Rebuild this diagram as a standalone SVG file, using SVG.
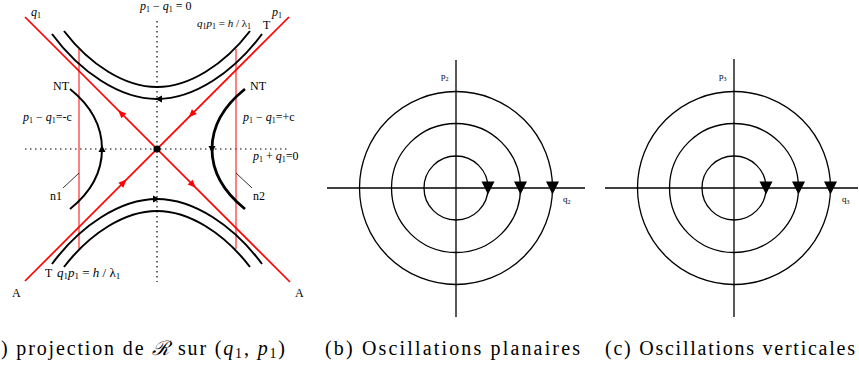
<svg xmlns="http://www.w3.org/2000/svg" width="859" height="367" viewBox="0 0 859 367">
<style>
.lbl{font-family:"Liberation Serif","Times New Roman",serif;font-size:12px;fill:#000}
.it{font-style:italic}
.sub{font-size:8px;font-style:normal}
.small{font-family:"Liberation Serif","Times New Roman",serif;font-size:9px;fill:#000}
.cap{font-family:"Liberation Serif","Times New Roman",serif;font-size:20px;fill:#000}
.dot{stroke:#000;stroke-width:1.2;stroke-dasharray:1.5 3.5;fill:none}
.sep{stroke:#f00;stroke-width:1.7;fill:none}
.thinred{stroke:#f00;stroke-width:1;fill:none}
.traj{stroke:#000;stroke-width:2;fill:none}
.thin{stroke:#000;stroke-width:0.8;fill:none}
.ax{stroke:#000;stroke-width:1.3;fill:none}
</style>
<defs>
<path id="rah" d="M0,0 L-8,-3.5 L-8,3.5 Z" fill="#f00"/>
<path id="bah" d="M0,0 L-7,-3.5 L-7,3.5 Z" fill="#000"/>
<path id="tri" d="M-6.5,-6.5 L6.5,-6.5 L0,6.5 Z" fill="#000"/>
</defs>

<g id="panel-a">
  <g id="axes-a">
    <line class="dot" x1="157" y1="21" x2="157" y2="282"/>
    <line class="dot" x1="25" y1="149" x2="288" y2="149"/>
  </g>
  <g id="boundaries">
    <line class="thinred" x1="79" y1="49" x2="79" y2="249"/>
    <line class="thinred" x1="236" y1="49" x2="236" y2="249"/>
  </g>
  <g id="trajectories">
    <path class="traj" d="M64,31 C90,65 125,87 157,87 S224,65 250,31"/>
    <path class="traj" d="M52,34 C80,72 120,99 157,99 S234,72 262,34"/>
    <path class="traj" d="M64,267 C90,233 125,211 157,211 S224,233 250,267"/>
    <path class="traj" d="M52,264 C80,226 120,199 157,199 S234,226 262,264"/>
    <path class="traj" d="M70,89 C90,105 102,125 102,149 C102,173 90,193 70,209"/>
    <path class="traj" style="stroke-width:2.8" d="M245,89 C225,105 212,125 212,149 C212,173 225,193 245,209"/>
    <use href="#bah" transform="translate(155,99) rotate(180)"/>
    <use href="#bah" transform="translate(160,199)"/>
    <use href="#bah" transform="translate(102,145) rotate(-90)"/>
    <use href="#bah" transform="translate(212,153) rotate(90)"/>
  </g>
  <g id="separatrices">
    <line class="sep" x1="25" y1="17" x2="290" y2="282"/>
    <line class="sep" x1="289" y1="17" x2="25" y2="281"/>
    <use href="#rah" transform="translate(118.2,110.2) rotate(-135)"/>
    <use href="#rah" transform="translate(188.7,117.3) rotate(135)"/>
    <use href="#rah" transform="translate(126.5,179.5) rotate(-45)"/>
    <use href="#rah" transform="translate(195.8,187.8) rotate(45)"/>
    <circle cx="157" cy="149" r="3.6" fill="#000"/>
  </g>
  <g id="leaders">
    <line class="thin" x1="63" y1="188" x2="79" y2="173"/>
    <line class="thin" x1="236" y1="173" x2="252" y2="188"/>
  </g>
  <g id="labels-a">
    <text class="lbl" x="31" y="16"><tspan class="it">q</tspan><tspan class="sub" dy="2">1</tspan></text>
    <text class="lbl" x="140" y="10"><tspan class="it">p</tspan><tspan class="sub" dy="2">1</tspan><tspan dy="-2"> − </tspan><tspan class="it">q</tspan><tspan class="sub" dy="2">1</tspan><tspan dy="-2"> = 0</tspan></text>
    <text class="lbl" x="272" y="16"><tspan class="it">p</tspan><tspan class="sub" dy="2">1</tspan></text>
    <text class="lbl" style="font-size:11px" x="197" y="27"><tspan class="it">q</tspan><tspan class="sub" dy="2">1</tspan><tspan class="it" dy="-2">p</tspan><tspan class="sub" dy="2">1</tspan><tspan dy="-2"> = </tspan><tspan class="it">h</tspan><tspan> / λ</tspan><tspan class="sub" dy="2">1</tspan></text>
    <text class="lbl" x="263" y="29">T</text>
    <text class="lbl" x="53" y="90">NT</text>
    <text class="lbl" x="250" y="90">NT</text>
    <text class="lbl" x="23" y="121"><tspan class="it">p</tspan><tspan class="sub" dy="2">1</tspan><tspan dy="-2"> − </tspan><tspan class="it">q</tspan><tspan class="sub" dy="2">1</tspan><tspan dy="-2">=-c</tspan></text>
    <text class="lbl" x="243" y="121"><tspan class="it">p</tspan><tspan class="sub" dy="2">1</tspan><tspan dy="-2"> − </tspan><tspan class="it">q</tspan><tspan class="sub" dy="2">1</tspan><tspan dy="-2">=+c</tspan></text>
    <text class="lbl" x="253" y="160"><tspan class="it">p</tspan><tspan class="sub" dy="2">1</tspan><tspan dy="-2"> + </tspan><tspan class="it">q</tspan><tspan class="sub" dy="2">1</tspan><tspan dy="-2">=0</tspan></text>
    <text class="lbl" x="50" y="200">n1</text>
    <text class="lbl" x="253" y="200">n2</text>
    <text class="lbl" x="45" y="277">T</text>
    <text class="lbl" style="font-size:13px" x="57" y="277"><tspan class="it">q</tspan><tspan class="sub" style="font-size:9px" dy="2">1</tspan><tspan class="it" dy="-2">p</tspan><tspan class="sub" style="font-size:9px" dy="2">1</tspan><tspan dy="-2"> = </tspan><tspan class="it">h</tspan><tspan> / λ</tspan><tspan class="sub" style="font-size:9px" dy="2">1</tspan></text>
    <text class="lbl" x="12" y="297">A</text>
    <text class="lbl" x="295" y="297">A</text>
  </g>
</g>

<g id="panel-b">
  <line class="ax" x1="456" y1="60" x2="456" y2="317"/>
  <line class="ax" x1="327" y1="188" x2="585" y2="188"/>
  <circle class="ax" cx="456" cy="188" r="32"/>
  <circle class="ax" cx="456" cy="188" r="64.5"/>
  <circle class="ax" cx="456" cy="188" r="96.5"/>
  <use href="#tri" transform="translate(488,188)"/>
  <use href="#tri" transform="translate(520.5,188)"/>
  <use href="#tri" transform="translate(552.5,188)"/>
  <text class="small" x="441" y="79">p<tspan font-size="6" dy="1.5">2</tspan></text>
  <text class="small" x="563" y="202">q<tspan font-size="6" dy="1.5">2</tspan></text>
</g>

<g id="panel-c">
  <line class="ax" x1="734" y1="59" x2="734" y2="317"/>
  <line class="ax" x1="605" y1="188" x2="858" y2="188"/>
  <circle class="ax" cx="734" cy="188" r="32"/>
  <circle class="ax" cx="734" cy="188" r="64.5"/>
  <circle class="ax" cx="734" cy="188" r="96.5"/>
  <use href="#tri" transform="translate(766,188)"/>
  <use href="#tri" transform="translate(798.5,188)"/>
  <use href="#tri" transform="translate(830.5,188)"/>
  <text class="small" x="719" y="79">p<tspan font-size="6" dy="1.5">3</tspan></text>
  <text class="small" x="842" y="202">q<tspan font-size="6" dy="1.5">3</tspan></text>
</g>

<g id="captions">
  <text class="cap" x="1" y="355" textLength="284" lengthAdjust="spacing">) projection de <tspan class="it">ℛ</tspan> sur (<tspan class="it">q</tspan><tspan font-size="14" dy="3">1</tspan><tspan dy="-3">, </tspan><tspan class="it">p</tspan><tspan font-size="14" dy="3">1</tspan><tspan dy="-3">)</tspan></text>
  <text class="cap" x="325" y="355" textLength="255" lengthAdjust="spacing">(b) Oscillations planaires</text>
  <text class="cap" x="605" y="355" textLength="250" lengthAdjust="spacing">(c) Oscillations verticales</text>
</g>
</svg>
